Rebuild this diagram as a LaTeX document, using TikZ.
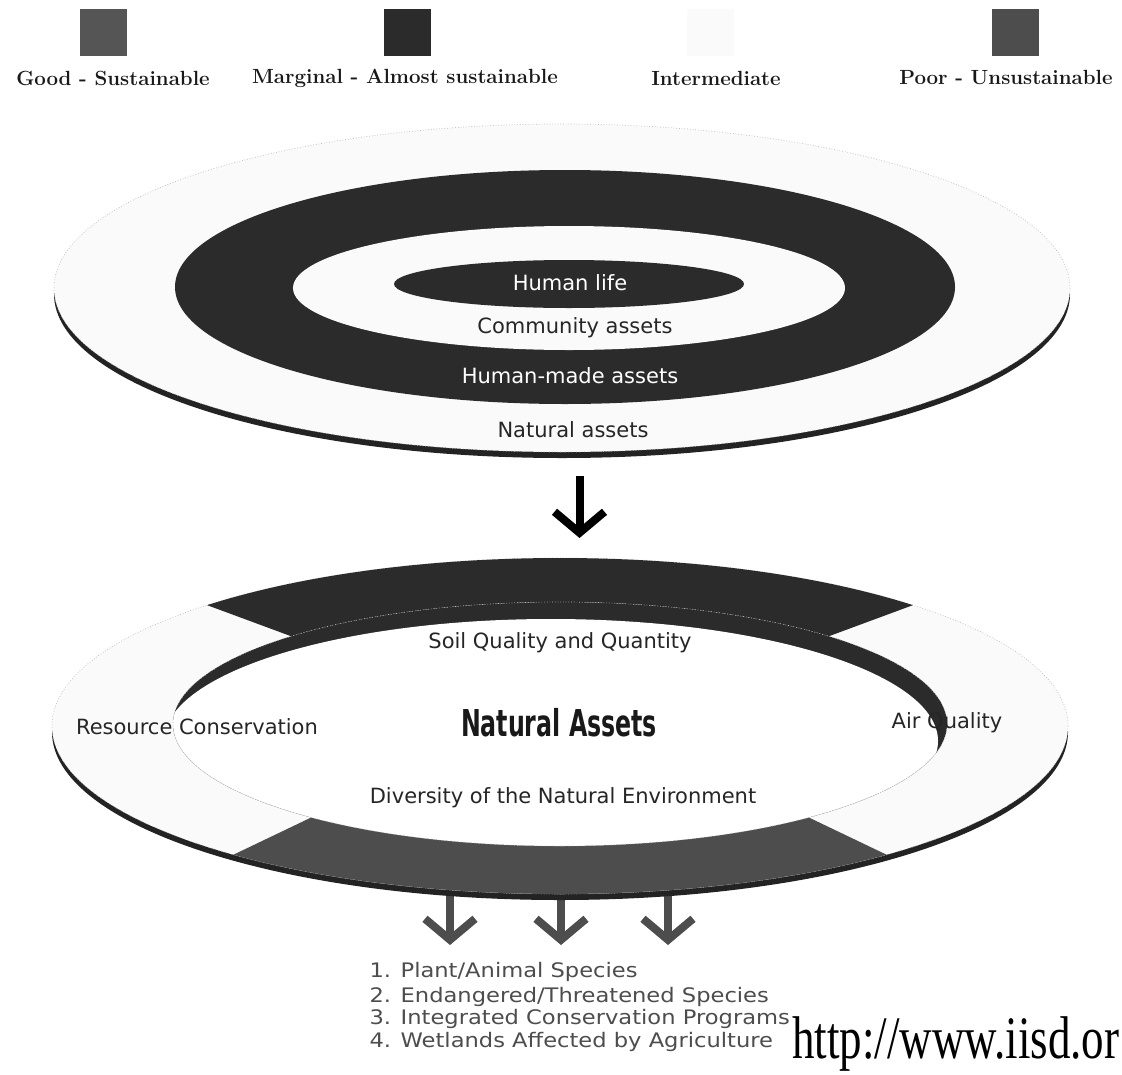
\documentclass[tikz,border=0pt]{standalone}
\usepackage{fontspec}
\usepackage{graphicx}
\usetikzlibrary{arrows.meta,calc}
\newfontfamily\ringfont{DejaVu Sans}
\newfontfamily\headfont{DejaVu Sans}[FakeStretch=0.64]
\newfontfamily\listfont{DejaVu Sans}[FakeStretch=1.13]
\newfontfamily\webfont{Liberation Serif}
\definecolor{good}{HTML}{555555}
\definecolor{marginal}{HTML}{2B2B2B}
\definecolor{intermediate}{HTML}{FAFAFA}
\definecolor{poor}{HTML}{4D4D4D}
\definecolor{rim}{HTML}{232323}
\tikzset{>=Straight Barb}

\begin{document}
\begin{tikzpicture}[x=1pt,y=-1pt,
  legbox/.style={minimum size=47pt,inner sep=0pt,fill=#1},
  leglabel/.style={font=\fontsize{20.5}{24}\selectfont\bfseries,text=black!90},
  ringlabel/.style={font=\ringfont\fontsize{21}{24}\selectfont,text=#1},
  ringlabel/.default=black!85,
  edgeline/.style={draw=gray!55,dotted,line width=0.7pt},
  downarrow/.style={line width=8pt,draw=#1,-{Straight Barb[length=21pt,width=50pt]}},
  listitem/.style={font=\listfont\fontsize{20}{22}\selectfont,text=poor,anchor=west}]
\useasboundingbox (0,0) rectangle (1122,1074);
\clip (0,0) rectangle (1122,1074);
\fill[white] (0,0) rectangle (1122,1074);

\node[legbox=good] (good) at (103.5,32.5) {};
\node[legbox=marginal] (marg) at (407,32.5) {};
\node[legbox=intermediate] (inter) at (710,32.5) {};
\node[legbox=poor] (poor) at (1015,32.5) {};
\node[leglabel] at (113,78) {Good - Sustainable};
\node[leglabel] at (405,78) {Marginal - Almost sustainable};
\node[leglabel] at (716,78) {Intermediate};
\node[leglabel] at (1006,78) {Poor - Unsustainable};

\coordinate (tc) at (562,288);
\fill[rim] ($(tc)+(0,6)$) ellipse[x radius=508,y radius=164];
\fill[intermediate] (tc) ellipse[x radius=508,y radius=164];
\draw[edgeline] (tc) ellipse[x radius=508,y radius=164];
\fill[marginal] (565,287) ellipse[x radius=390,y radius=117];
\fill[intermediate] (569,288) ellipse[x radius=276,y radius=62];
\fill[marginal] (569,284) ellipse[x radius=175,y radius=24];
\node[ringlabel=white] (life) at (570,283) {Human life};
\node[ringlabel] (community) at (575,328) {Community assets};
\node[ringlabel=white] (humanmade) at (570,376) {Human-made assets};
\node[ringlabel] (natural) at (573,430) {Natural assets};

\coordinate (arrtop) at (579.5,476);
\coordinate (arrend) at (579.5,538);
\draw[downarrow=black] (arrtop) -- (arrend);

\foreach \x/\n in {450/a,561/b,668/c}{
  \coordinate (top\n) at (\x,880);
  \coordinate (end\n) at (\x,945);
  \draw[downarrow=poor] (top\n) -- (end\n);
}

\coordinate (oc) at (560,726);
\coordinate (ic) at (560,724);
\fill[rim] ($(oc)+(0,6)$) ellipse[x radius=508,y radius=168];
\fill[intermediate] (oc) ellipse[x radius=508,y radius=168];
\draw[edgeline] (oc) ellipse[x radius=508,y radius=168];
\fill[marginal] ($(oc)+(-46:508 and 168)$) arc[start angle=-46,end angle=-134,x radius=508,y radius=168]
  -- ($(ic)+(-134:387 and 122)$) arc[start angle=-134,end angle=-46,x radius=387,y radius=122] -- cycle;
\fill[poor] ($(oc)+(-230:508 and 168)$) arc[start angle=-230,end angle=-310,x radius=508,y radius=168]
  -- ($(ic)+(-310:387 and 122)$) arc[start angle=-310,end angle=-230,x radius=387,y radius=122] -- cycle;
\fill[marginal] (ic) ellipse[x radius=387,y radius=122];
\begin{scope}
  \clip (ic) ellipse[x radius=387,y radius=122];
  \fill[white] (551,741) ellipse[x radius=387,y radius=122];
\end{scope}
\draw[edgeline] (ic) ellipse[x radius=387,y radius=122];
\node[ringlabel] (soil) at (560,643) {Soil Quality and Quantity};
\node[font=\headfont\bfseries\fontsize{37}{40}\selectfont,text=black!90] (assets) at (559,723) {Natural Assets};
\node[ringlabel] (resource) at (197,727) {Resource Conservation};
\node[ringlabel] (air) at (947,723) {Air Quality};
\node[ringlabel] (diversity) at (563,798) {Diversity of the Natural Environment};

\node[listitem] (item1) at (366,972) {1. Plant/Animal Species};
\node[listitem] (item2) at (366,997) {2. Endangered/Threatened Species};
\node[listitem] (item3) at (366,1019) {3. Integrated Conservation Programs};
\node[listitem] (item4) at (366,1042) {4. Wetlands Affected by Agriculture};
\node[anchor=base west,inner sep=0pt,font=\webfont\fontsize{45}{50}\selectfont] (web) at (792,1058) {\scalebox{1}[1.34]{http://www.iisd.or}};
\end{tikzpicture}
\end{document}
